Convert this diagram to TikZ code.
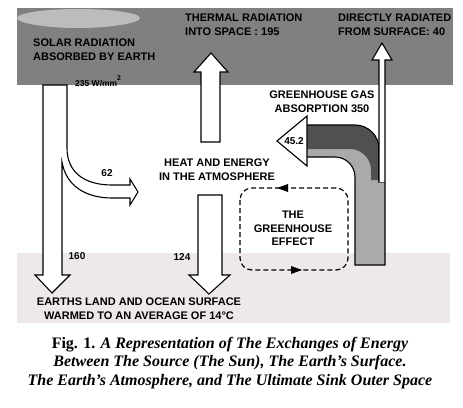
\documentclass[tikz,border=0pt]{standalone}
\usepackage{fontspec}
\setmainfont{Liberation Serif}
\newfontfamily\labfont{Liberation Sans}
\definecolor{skygray}{RGB}{128,128,128}
\definecolor{sunlight}{RGB}{188,188,188}
\definecolor{earthpink}{RGB}{238,232,232}
\definecolor{pipedark}{RGB}{80,80,80}
\definecolor{pipelight}{RGB}{170,170,170}
\begin{document}
\begin{tikzpicture}[x=1pt,y=-1pt,
  lab/.style={font=\labfont\bfseries\fontsize{11}{13.5}\selectfont, inner sep=0pt},
  num/.style={font=\labfont\bfseries\fontsize{10}{11}\selectfont, inner sep=0pt},
  flow/.style={draw=black, fill=white, line width=1.1pt, line join=miter},
  pipeline/.style={draw=black, line width=1.1pt},
  loopline/.style={draw=black, line width=1.2pt, dash pattern=on 5pt off 3pt, rounded corners=12pt}
]
\useasboundingbox (0,0) rectangle (463,407);
\fill[white] (0,0) rectangle (463,407);
% bands
\fill[skygray] (17,8) rectangle (453,85);
\fill[sunlight] (17,18) .. controls (17,13) and (45,9) .. (78,9) .. controls (111,9) and (140,13) .. (140,18) .. controls (140,23) and (111,28) .. (78,28) .. controls (45,28) and (17,23) .. (17,18) -- cycle;
\fill[earthpink] (17,253) rectangle (450,323);

% texts in top band
\node[lab, anchor=north west, align=left] (solar) at (33,39) {SOLAR RADIATION\\ABSORBED BY EARTH};
\node[num, font=\labfont\bfseries\fontsize{8.5}{10}\selectfont, anchor=west] (wmm) at (75,81) {235 W/mm\raisebox{6pt}{\fontsize{7}{7}\selectfont 2}};
\node[lab, anchor=north west, align=left] (thermal) at (185,14) {THERMAL RADIATION\\INTO SPACE : 195};
\node[lab, anchor=north west, align=left] (direct) at (338,14) {DIRECTLY RADIATED\\FROM SURFACE: 40};

% solar arrow with branch
\draw[flow] (43,85) -- (43,275) -- (35,275) -- (52,293) -- (70,275) -- (62,275) -- (62,162)
  .. controls (66,186) and (86,198) .. (112,198) -- (130,198) -- (130,205) -- (138,192) -- (130,179) -- (130,185) -- (112,185)
  .. controls (84,185) and (67,172) .. (67,148) -- (67,85) -- cycle;
\node[num] (n62) at (107,173) {62};
\node[num] (n160) at (77,256) {160};

% thermal up arrow
\draw[flow] (201,142) -- (201,72) -- (194,72) -- (211,53) -- (228,72) -- (220,72) -- (220,142) -- cycle;

% atmosphere
\node[lab, anchor=north, align=center] (atmo) at (217,159) {HEAT AND ENERGY\\IN THE ATMOSPHERE};

% down arrow 124
\draw[flow] (198,195) -- (198,275) -- (189,275) -- (209,294) -- (230,275) -- (222,275) -- (222,195) -- cycle;
\node[num] (n124) at (182,257) {124};

% greenhouse gas pipe
\fill[pipelight] (307,125) -- (355,125) .. controls (368.3,125) and (379,135.7) .. (379,149) -- (379,182) -- (385,182) -- (385,265) -- (355,265) -- (355,177) .. controls (355,166) and (346,157) .. (335,157) -- (307,157) -- cycle;
\fill[pipedark] (307,125) -- (355,125) .. controls (368.3,125) and (379,135.7) .. (379,149) -- (379,180) -- (371,180) -- (371,170) .. controls (371,158.4) and (361.6,149) .. (350,149) -- (307,149) -- cycle;
\draw[pipeline] (307,125) -- (355,125) .. controls (368.3,125) and (379,135.7) .. (379,149) -- (379,182) -- (385,182) -- (385,265) -- (355,265) -- (355,177) .. controls (355,166) and (346,157) .. (335,157) -- (307,157);
\draw[flow] (307,116) -- (277,141) -- (307,166) -- cycle;
\node[num] (n452) at (294,141) {45.2};
\node[lab, anchor=north, align=center] (ghg) at (322,91) {GREENHOUSE GAS\\ABSORPTION 350};

% directly radiated thin arrow
\draw[flow] (379,182) -- (379,60) -- (372,60) -- (382,43) -- (392,60) -- (385,60) -- (385,182);

% greenhouse effect loop
\draw[loopline] (240,188) rectangle (348,270);
\fill (277,188) -- (288,184) -- (288,192) -- cycle;
\fill (302,270) -- (291,266) -- (291,274) -- cycle;
\node[lab, anchor=north, align=center] (effect) at (293,211) {THE\\GREENHOUSE\\EFFECT};

% surface
\node[lab, anchor=north, align=center] (surface) at (139,298) {EARTHS LAND AND OCEAN SURFACE\\WARMED TO AN AVERAGE OF 14\textdegree C};

% caption
\node[font=\fontsize{16}{18.5}\selectfont, align=center, inner sep=0pt] (caption) at (230,363)
  {\textbf{Fig. 1.} \textbf{\textit{A Representation of The Exchanges of Energy}}\\
   \textbf{\textit{Between The Source (The Sun), The Earth’s Surface.}}\\
   \textbf{\textit{The Earth’s Atmosphere, and The Ultimate Sink Outer Space}}};
\end{tikzpicture}
\end{document}
